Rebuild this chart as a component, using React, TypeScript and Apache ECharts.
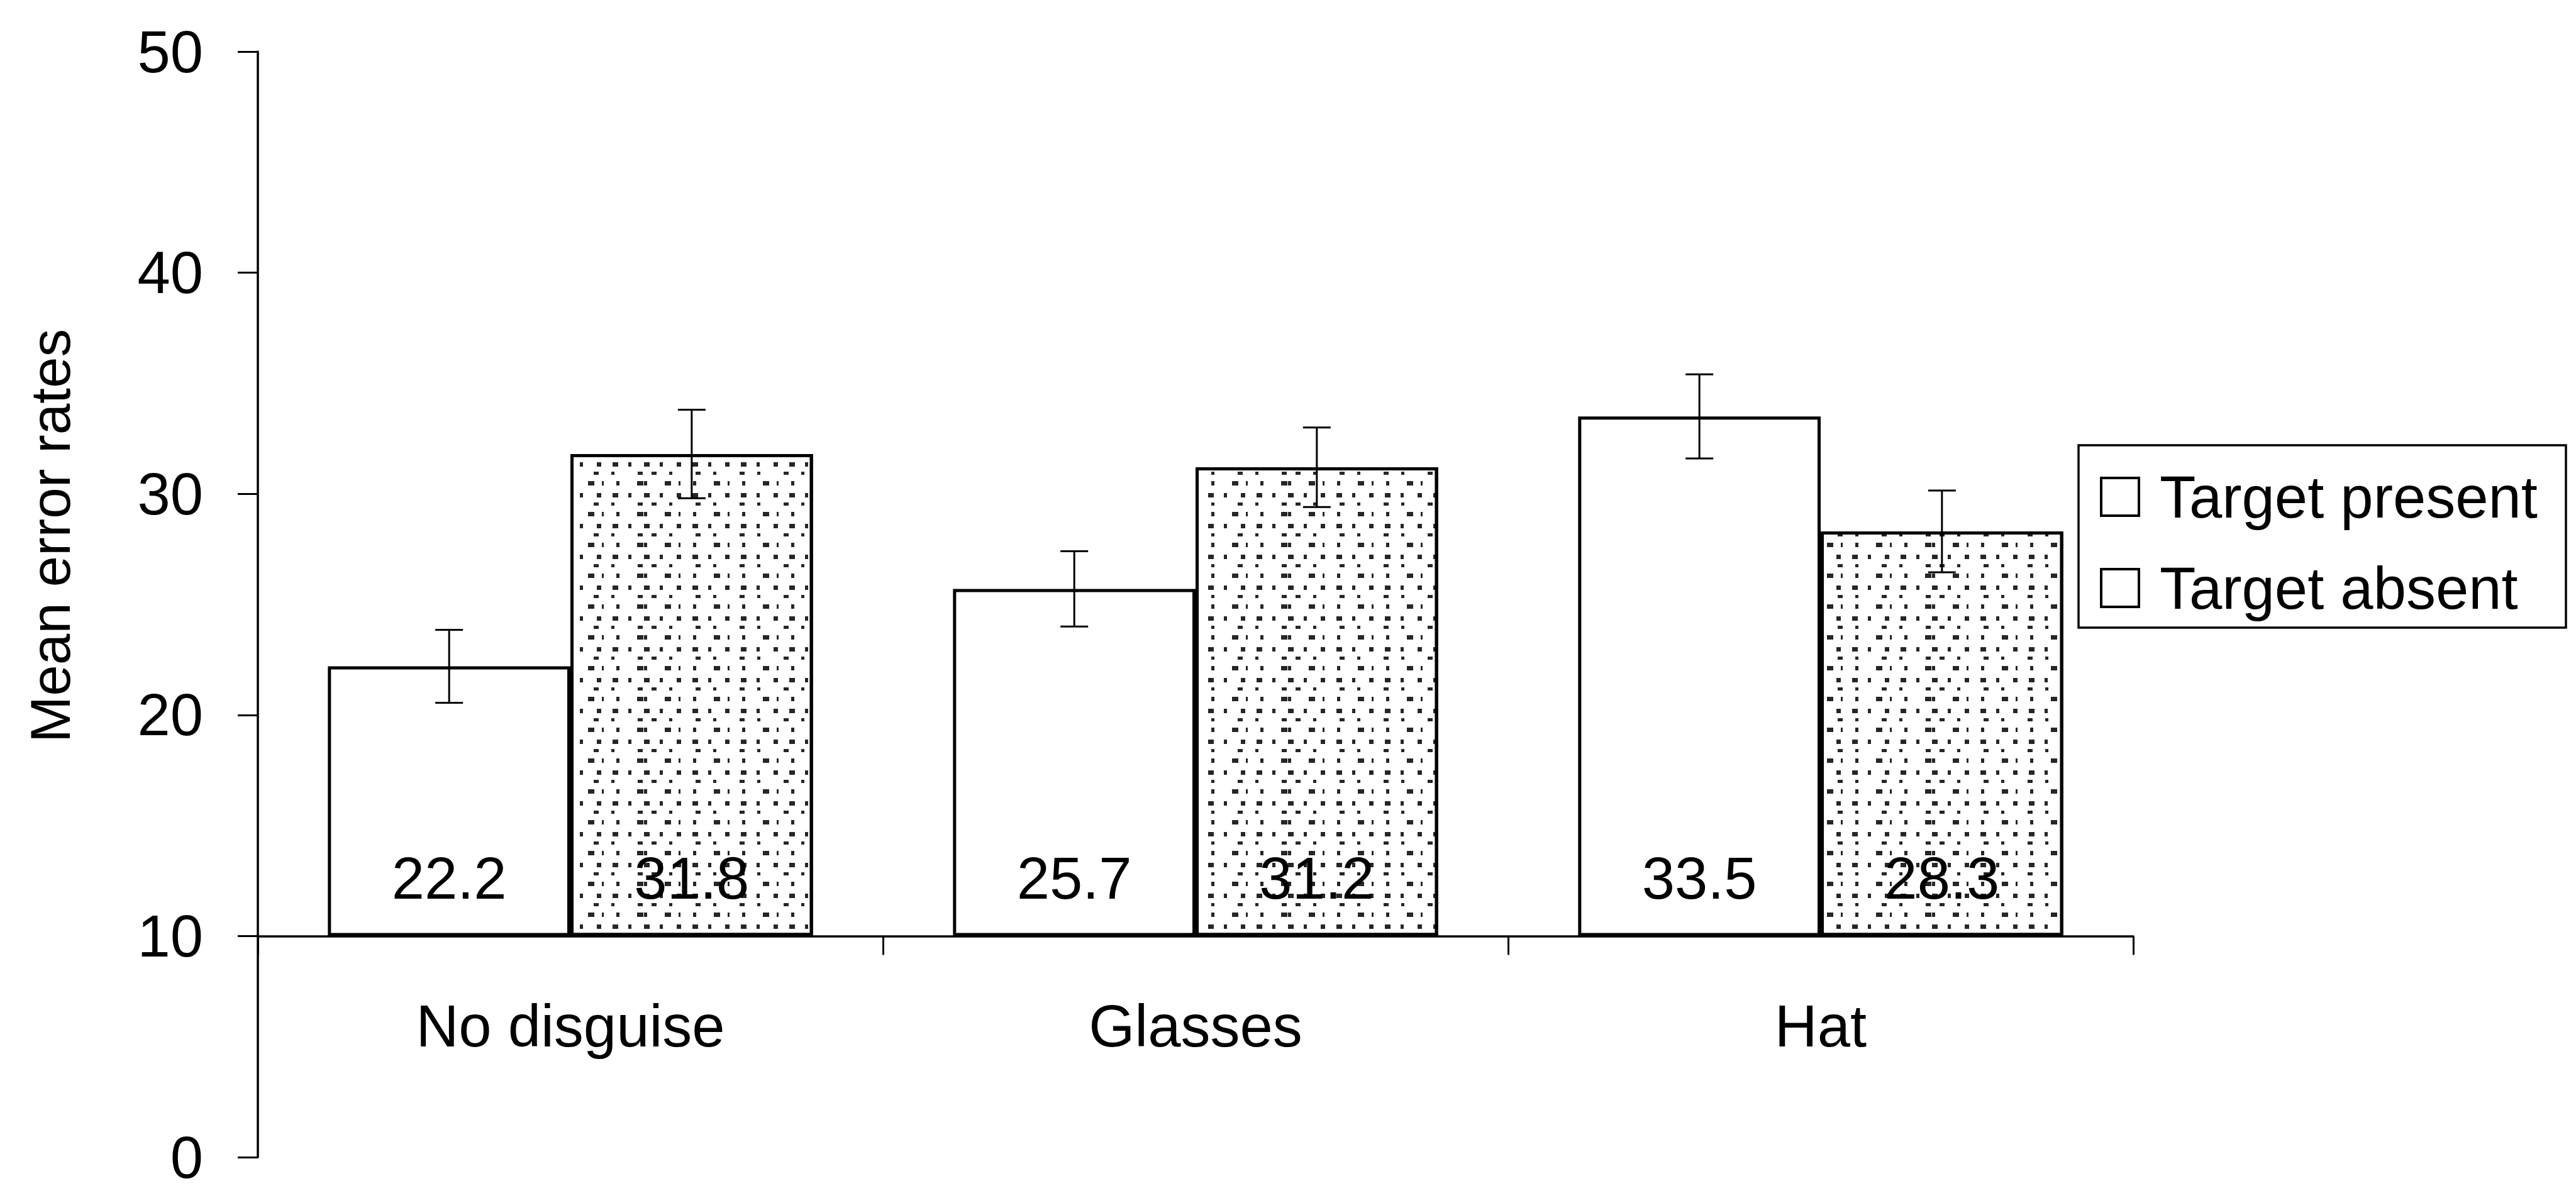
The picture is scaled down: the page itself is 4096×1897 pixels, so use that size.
import React, { useEffect, useRef } from "react";
import * as echarts from "echarts";

// Mean error rates by disguise condition, target present vs. absent lineups
const categories = ["No disguise", "Glasses", "Hat"];
const presentValues = [22.2, 25.7, 33.5];
const absentValues = [31.8, 31.2, 28.3];
const presentErrors = [1.65, 1.7, 1.9];
const absentErrors = [2.0, 1.8, 1.85];
const yTicks = [0, 10, 20, 30, 40, 50];
const seriesNames = ["Target present", "Target absent"];

const FONT = "'Liberation Sans', Arial, Helvetica, sans-serif";
const BAR_FRACTION = 0.388;

// plot geometry: full 0–50 scale, bars drawn above the 10 line
const PLOT_TOP = 82;
const PLOT_HEIGHT = 1758;

export default function App() {
  const ref = useRef<HTMLDivElement>(null);

  useEffect(() => {
    document.body.style.margin = "0";
    document.body.style.overflow = "hidden";
    const el = ref.current;
    if (!el) return;
    const chart = echarts.init(el, null, { renderer: "svg" });

    const errorData: number[][] = [];
    categories.forEach((_, i) => {
      errorData.push([i, presentValues[i] - presentErrors[i], presentValues[i] + presentErrors[i], 0]);
      errorData.push([i, absentValues[i] - absentErrors[i], absentValues[i] + absentErrors[i], 1]);
    });

    const textStyle = { fontFamily: FONT, fontSize: 94, color: "#000" };

    const option: any = {
      animation: false,
      backgroundColor: "#fff",
      grid: [
        // bars sit on the x axis drawn at y = 10
        { left: 410, width: 2982, top: PLOT_TOP, height: PLOT_HEIGHT * 0.8, outerBoundsMode: "none" },
        // full 0–50 value scale on the left
        { left: 410, width: 2982, top: PLOT_TOP, height: PLOT_HEIGHT, outerBoundsMode: "none" },
      ],
      xAxis: [
        {
          type: "category",
          gridIndex: 0,
          data: categories,
          boundaryGap: true,
          axisLine: { show: true, lineStyle: { color: "#000", width: 3.5 } },
          axisTick: { show: true, inside: false, length: 30, interval: 0, alignWithLabel: false, lineStyle: { color: "#000", width: 3 } },
          axisLabel: { ...textStyle, margin: 96, interval: 0 },
          splitLine: { show: false },
        },
        { type: "category", gridIndex: 1, data: categories, show: false },
      ],
      yAxis: [
        { type: "value", gridIndex: 0, min: 10, max: 50, startValue: 10, show: false, splitLine: { show: false } },
        {
          type: "value",
          gridIndex: 1,
          min: yTicks[0],
          max: yTicks[yTicks.length - 1],
          interval: 10,
          axisLine: { show: true, lineStyle: { color: "#000", width: 3.5 } },
          axisTick: { show: true, inside: false, length: 32, lineStyle: { color: "#000", width: 3 } },
          axisLabel: { ...textStyle, margin: 87, lineHeight: 70 },
          splitLine: { show: false },
        },
      ],
      series: [
        {
          name: seriesNames[0],
          type: "bar",
          xAxisIndex: 0,
          yAxisIndex: 0,
          data: presentValues,
          barWidth: `${BAR_FRACTION * 100}%`,
          barGap: "0%",
          itemStyle: { color: "#fff", borderColor: "#000", borderWidth: 5 },
          label: { show: true, position: "insideBottom", distance: 45, ...textStyle, formatter: (p: any) => p.value.toFixed(1) },
        },
        {
          name: seriesNames[1],
          type: "bar",
          xAxisIndex: 0,
          yAxisIndex: 0,
          data: absentValues,
          barWidth: `${BAR_FRACTION * 100}%`,
          barGap: "0%",
          itemStyle: {
            color: "#fff",
            borderColor: "#000",
            borderWidth: 5,
            // coarse black speckle fill
            decal: {
              symbol: "rect",
              symbolSize: 1,
              color: "rgba(0,0,0,0.85)",
              dashArrayX: [
                [9, 16, 5, 22, 7, 18],
                [0, 12, 8, 20, 5, 25],
                [5, 28, 10, 12, 3, 20],
              ],
              dashArrayY: [7, 8, 5, 10, 7, 12],
              rotation: 0,
            },
          },
          label: { show: true, position: "insideBottom", distance: 45, ...textStyle, formatter: (p: any) => p.value.toFixed(1) },
        },
        {
          name: "error",
          type: "custom",
          xAxisIndex: 0,
          yAxisIndex: 0,
          data: errorData,
          z: 10,
          renderItem: (_params: any, api: any) => {
            const idx = api.value(0);
            const lo = api.coord([idx, api.value(1)]);
            const hi = api.coord([idx, api.value(2)]);
            const band = api.size([1, 0])[0];
            const side = api.value(3) === 0 ? -1 : 1;
            const x = lo[0] + (side * band * BAR_FRACTION) / 2;
            const half = 22;
            const style = { stroke: "#000", lineWidth: 3, fill: "none" };
            return {
              type: "group",
              children: [
                { type: "line", shape: { x1: x, y1: hi[1], x2: x, y2: lo[1] }, style },
                { type: "line", shape: { x1: x - half, y1: hi[1], x2: x + half, y2: hi[1] }, style },
                { type: "line", shape: { x1: x - half, y1: lo[1], x2: x + half, y2: lo[1] }, style },
              ],
            };
          },
        },
      ],
      graphic: [
        {
          type: "text",
          x: 80,
          y: 852,
          rotation: Math.PI / 2,
          style: { text: "Mean error rates", font: `89px ${FONT}`, fill: "#000", align: "center", verticalAlign: "middle" },
        },
        {
          type: "group",
          children: [
            { type: "rect", shape: { x: 3305, y: 708, width: 775, height: 290 }, style: { fill: "#fff", stroke: "#000", lineWidth: 3.5 } },
            { type: "rect", shape: { x: 3341, y: 760, width: 60, height: 60 }, style: { fill: "#fff", stroke: "#000", lineWidth: 4 } },
            { type: "rect", shape: { x: 3341, y: 905, width: 60, height: 60 }, style: { fill: "#fff", stroke: "#000", lineWidth: 4 } },
            { type: "text", x: 3434, y: 790, style: { text: seriesNames[0], font: `94px ${FONT}`, fill: "#000", verticalAlign: "middle" } },
            { type: "text", x: 3434, y: 935, style: { text: seriesNames[1], font: `94px ${FONT}`, fill: "#000", verticalAlign: "middle" } },
          ],
        },
      ],
    };

    chart.setOption(option);
    return () => chart.dispose();
  }, []);

  return <div ref={ref} style={{ width: 4096, height: 1897 }} />;
}
